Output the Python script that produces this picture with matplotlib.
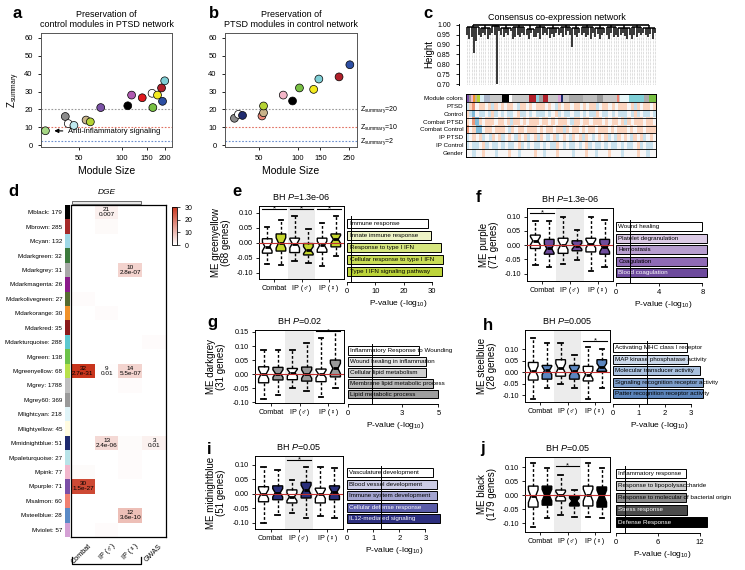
import numpy as np
import matplotlib
matplotlib.use('Agg')
import matplotlib.pyplot as plt
import matplotlib.transforms as mtransforms
from matplotlib.colors import LinearSegmentedColormap, to_rgb
from matplotlib.ticker import NullLocator
from matplotlib.patches import Rectangle

plt.rcParams['font.family'] = ['Liberation Sans', 'DejaVu Sans']
plt.rcParams['mathtext.fontset'] = 'custom'
plt.rcParams['mathtext.rm'] = 'Liberation Sans'
plt.rcParams['mathtext.it'] = 'Liberation Sans:italic'
plt.rcParams['axes.linewidth'] = 0.7
plt.rcParams['xtick.major.width'] = 0.6
plt.rcParams['ytick.major.width'] = 0.6
plt.rcParams['xtick.major.size'] = 2.5
plt.rcParams['ytick.major.size'] = 2.5

# ---------------- data ----------------
# a: control modules in PTSD network
a_size = [29, 40, 42, 46, 56, 60, 71, 110, 117, 139, 163, 165, 178, 190, 193, 200]
a_z = [8, 16, 12, 11, 14, 13, 21, 22, 28, 26.5, 29, 21, 28, 32, 24.5, 36]
a_col = ['#a6d785', '#8c8c8c', 'white', '#bfe8ef', '#c9b38a', '#b5d334', '#7b52a6', 'black',
         '#b05ab0', '#e0191e', 'white', '#78c043', '#f3ea1f', '#b0202a', '#2d4fa3', '#7fcfd6']

# b: PTSD modules in control network
b_size = [32, 34.4, 37, 52.5, 54, 54, 77, 91, 103, 133, 146, 210, 255]
b_z = [15, 17.2, 16.6, 16.3, 18.1, 21.9, 28, 24.7, 32, 31.2, 37, 38.2, 45]
b_col = ['#8c8c8c', 'white', '#1f2a6e', '#f08a7a', '#c9b38a', '#b5d334', '#f4b6c8', 'black',
         '#78c043', '#f3ea1f', '#7fcfd6', '#b0202a', '#2d4fa3']

zsum_lines = [20, 10, 2]
zsum_colors = ['#999999', '#e07060', '#6a8fd0']

# c: consensus network dendrogram (join height, leaf heights)
dendro_clusters = [
    (0.990, [0.95, 0.93, 0.94, 0.86, 0.92, 0.95]),
    (0.985, [0.94, 0.96, 0.95, 0.93, 0.95]),
    (0.995, [0.96, 0.95, 0.70, 0.97]),
    (0.985, [0.95, 0.94, 0.96, 0.95, 0.97]),
    (0.990, [0.93, 0.94, 0.95, 0.94, 0.96, 0.95]),
    (0.980, [0.95, 0.93, 0.96, 0.94]),
    (0.990, [0.94, 0.96, 0.93, 0.95, 0.96]),
    (0.985, [0.95, 0.935, 0.955, 0.94, 0.96, 0.95]),
    (0.990, [0.96, 0.94, 0.95, 0.97, 0.95]),
    (0.985, [0.89, 0.95, 0.94, 0.96]),
    (0.990, [0.95, 0.96, 0.94, 0.95, 0.93, 0.96]),
    (0.985, [0.94, 0.955, 0.93, 0.95, 0.96]),
    (0.990, [0.95, 0.93, 0.96, 0.94, 0.95]),
    (0.985, [0.94, 0.95, 0.96, 0.945, 0.93, 0.95]),
    (0.990, [0.93, 0.95, 0.94, 0.96, 0.95]),
    (0.985, [0.96, 0.95, 0.94, 0.955, 0.93, 0.96]),
]
module_segments = [
    ('#7b4ea6', 8), ('#9a9a9a', 7), ('#f2b6cc', 6), ('#f0922a', 5), ('#c9b38a', 6),
    ('#b5d334', 10), ('#d8eef5', 10), ('#aab4c8', 20), ('#c8c8c8', 33), ('black', 22),
    ('white', 10), ('#c8c8c8', 50), ('#b0202a', 20), ('#8fd3e0', 8), ('#a0a0a0', 12),
    ('#b0202a', 15), ('#c8c8c8', 28), ('#d6a0d6', 10), ('#1f2a6e', 5), ('#c8c8c8', 20),
    ('#a9a9a9', 40), ('#bebebe', 40), ('#999999', 20), ('#c8c8c8', 40), ('#f08070', 5),
    ('#c8c8c8', 5), ('#e8f6f8', 25), ('#7fcfd6', 45), ('#a9a9a9', 15), ('#78c043', 20),
]
trait_names = ['Module colors', 'PTSD', 'Control', 'Combat PTSD', 'Combat Control',
               'IP PTSD', 'IP Control', 'Gender']
trait_rows = [
    "brR.rr.rbr.r.rr.brr.r.rrr.r.br.rr.rr.r.rrb.rr.r.rrr.rbr.rr.r",
    "rbB.bb.brb.b.bb.rbb.b.bbb.b.rb.bb.bb.b.bbr.bb.b.bbb.brb.bb.b",
    "r.RBr.rrr.rr.rbrr.r.rrr.rr.r.rrr.brr.rr.rrr.r.rr.rbr.rrr.rr.",
    "R.rBB.rr.rrr.br.rr.rrr.r.rr.rrbr.rr.r.rr.rrr.r.rrr.r.rr.rrr",
    "b.r.rb.br.rb.r.br.rb.rbr.b.rb.r.br.rbr.b.r.rb.br.r.br.rb.r.",
    "b.bb.rb.bb.b.bb.rb.b.bb.b.bbr.b.bb.b.rb.bb.b.bb.b.bb.rb.bb.",
    "..b..r...b...r..b....r..b...r....b...r..b...r...b....r..b..",
]
trait_code = {'B': -2, 'b': -1, '.': 0, 'r': 1, 'R': 2}

# d: module overlap with DGE / GWAS
modules = ['Mblack: 179', 'Mbrown: 285', 'Mcyan: 132', 'Mdarkgreen: 32', 'Mdarkgrey: 31',
           'Mdarkmagenta: 26', 'Mdarkolivegreen: 27', 'Mdarkorange: 30', 'Mdarkred: 35',
           'Mdarkturquoise: 288', 'Mgreen: 138', 'Mgreenyellow: 68', 'Mgrey: 1788',
           'Mgrey60: 369', 'Mlightcyan: 218', 'Mlightyellow: 45', 'Mmidnightblue: 51',
           'Mpaleturquoise: 27', 'Mpink: 77', 'Mpurple: 71', 'Msalmon: 60',
           'Msteelblue: 28', 'Mviolet: 57']
module_colors = ['black', '#a52a2a', '#9fd8e6', '#3d7a3d', '#a9a9a9', '#8b1a8b', '#556b2f',
                 '#f0922a', '#8b1a1a', '#5bc8d0', '#6cc24a', '#b8e04a', '#bebebe', '#999999',
                 '#e0f4f8', '#fffbe0', '#1e2a6e', '#b8e3e8', '#f2b6cc', '#7b4ea6', '#f08070',
                 '#5a8ac6', '#d4a0d4']
dge_cols = ['Combat', 'IP (♂)', 'IP (♀)', 'GWAS']
dge_logp = [
    [0, 2.15, 0, 0], [0, 0.8, 0, 0], [0, 0, 0, 0], [0, 0, 0, 0], [0, 0, 6.55, 0],
    [0, 0, 0, 0], [0.5, 0, 0, 0], [0, 0.5, 0, 0], [0, 0, 0, 0], [0, 0, 0, 0.5],
    [0, 0, 0, 0], [30.57, 0.3, 6.26, 0], [0, 0, 0.5, 0], [0, 0, 0, 0], [0, 0, 0, 0],
    [0, 0, 0, 0], [0, 5.62, 0.6, 2.0], [0, 0, 0.5, 0], [0.6, 0, 0.5, 0], [26.82, 0, 0, 0],
    [0, 0, 0, 0], [0, 0, 9.44, 0], [0, 0.5, 0, 0],
]
dge_text = [(0, 1, '21\n0.007'), (4, 2, '10\n2.8e-07'), (11, 0, '32\n2.7e-31'),
            (11, 1, '9\n0.01'), (11, 2, '14\n5.5e-07'), (16, 1, '13\n2.4e-06'),
            (16, 3, '3\n0.01'), (19, 0, '30\n1.5e-27'), (21, 2, '12\n3.6e-10')]

# e-j: module eigengene boxes (whislo, q1, med, q3, whishi) and GO terms
e_stats = [(-0.069, -0.034, -0.012, 0.014, 0.054), (-0.072, -0.027, 0.000, 0.030, 0.078),
           (-0.061, -0.032, -0.002, 0.016, 0.089), (-0.067, -0.040, -0.024, -0.002, 0.046),
           (-0.077, -0.031, -0.008, 0.016, 0.066), (-0.045, -0.013, 0.012, 0.030, 0.091)]
e_terms = ['Immune response', 'Innate immune response', 'Response to type I IFN',
           'Cellular response to type I IFN', 'Type I IFN signaling pathway']
e_pval = [28.5, 29.5, 33, 34, 33.5]

f_stats = [(-0.070, -0.012, 0.015, 0.035, 0.086), (-0.076, -0.032, -0.012, 0.020, 0.086),
           (-0.065, -0.029, 0.000, 0.024, 0.100), (-0.053, -0.020, -0.004, 0.015, 0.053),
           (-0.090, -0.024, 0.004, 0.024, 0.100), (-0.076, -0.032, -0.008, 0.020, 0.088)]
f_terms = ['Wound healing', 'Platelet degranulation', 'Hemostasis', 'Coagulation',
           'Blood coagulation']
f_pval = [8.0, 8.4, 8.4, 8.4, 8.4]

g_stats = [(-0.087, -0.031, 0.000, 0.026, 0.086), (-0.075, -0.021, 0.002, 0.024, 0.086),
           (-0.050, -0.020, 0.005, 0.020, 0.086), (-0.060, -0.025, 0.000, 0.025, 0.110),
           (-0.080, -0.027, 0.000, 0.018, 0.130), (-0.050, -0.010, 0.020, 0.050, 0.160)]
g_terms = ['Inflammatory Response to Wounding', 'Wound healing in inflammation',
           'Cellular lipid metabolism', 'Membrane lipid metabolic process',
           'Lipid metabolic process']
g_pval = [3.9, 4.3, 4.3, 4.7, 5.0]

h_stats = [(-0.115, -0.034, 0.004, 0.043, 0.150), (-0.070, -0.030, 0.008, 0.030, 0.128),
           (-0.050, -0.017, 0.017, 0.055, 0.128), (-0.070, -0.030, 0.004, 0.030, 0.077),
           (-0.115, -0.038, -0.010, 0.026, 0.110), (-0.070, 0.004, 0.023, 0.055, 0.100)]
h_terms = ['Activating MHC class I receptor', 'MAP kinase phosphatase activity',
           'Molecular transducer activity', 'Signaling recognition receptor activity',
           'Patter recognition receptor activity']
h_pval = [2.85, 2.9, 3.35, 3.5, 3.5]

i_stats = [(-0.100, -0.027, 0.000, 0.025, 0.093), (-0.072, -0.020, 0.004, 0.028, 0.083),
           (-0.065, -0.031, -0.010, 0.014, 0.048), (-0.083, -0.014, 0.014, 0.040, 0.093),
           (-0.076, -0.031, 0.000, 0.020, 0.093), (-0.083, -0.020, 0.007, 0.028, 0.090)]
i_terms = ['Vasculature development', 'Blood vessel development', 'Immune system development',
           'Cellular defense response', 'IL12-mediated signaling']
i_pval = [3.3, 3.45, 3.45, 3.45, 3.55]

j_stats = [(-0.114, -0.043, -0.004, 0.032, 0.114), (-0.082, -0.036, 0.000, 0.032, 0.096),
           (-0.070, -0.021, 0.000, 0.018, 0.071), (-0.079, -0.039, -0.021, -0.004, 0.018),
           (-0.079, -0.039, 0.000, 0.032, 0.114), (-0.082, -0.043, -0.004, 0.029, 0.096)]
j_terms = ['Inflammatory response', 'Response to lipopolysaccharide',
           'Response to molecular of bacterial origin', 'Stress response', 'Defense Response']
j_pval = [10, 10, 10, 10.2, 13]

groups = ['Combat', 'IP (♂)', 'IP (♀)']

W, H = 745, 570
fig = plt.figure(figsize=(W / 100, H / 100), dpi=100)


def px_axes(l, t, r, b):
    return fig.add_axes([l / W, 1 - b / H, (r - l) / W, (b - t) / H])


def letter(x, y, s):
    fig.text(x / W, 1 - y / H, s, fontsize=12, fontweight='bold', va='center', ha='left')


def preservation(rect, size, z, cols, xlim, xticks, title):
    ax = px_axes(*rect)
    for v, c in zip(zsum_lines, zsum_colors):
        ax.axhline(v, color=c, ls=(0, (1.5, 1.5)), lw=0.8, zorder=1)
    ax.scatter(size, z, s=32, c=cols, edgecolors='black', linewidths=0.5, zorder=3)
    ax.set_xscale('log')
    ax.set_xlim(*xlim)
    ax.set_ylim(-1.1, 62.8)
    ax.set_xticks(xticks)
    ax.set_xticklabels([str(t) for t in xticks])
    ax.xaxis.set_minor_locator(NullLocator())
    ax.set_yticks(range(0, 61, 10))
    ax.tick_params(labelsize=5.5)
    for sp in ax.spines.values():
        sp.set_color('#555555')
    ax.set_xlabel('Module Size', fontsize=7.5, labelpad=3)
    ax.set_title(title, fontsize=6.5, pad=4, linespacing=1.15)
    return ax


# ---- a ----
ax_a = preservation((41, 33, 172, 147), a_size, a_z, a_col, (27, 225), [50, 100, 150, 200],
                    'Preservation of\ncontrol modules in PTSD network')
ax_a.set_ylabel(r'Z$_{\rm summary}$', fontsize=7, labelpad=2)
ax_a.annotate('Anti-inflammatory signaling', xy=(32, 8), xytext=(42, 7.5), fontsize=5.5,
              va='center', ha='left',
              arrowprops=dict(arrowstyle='-|>', color='black', lw=0.8, mutation_scale=6))
letter(13, 13, 'a')

# ---- b ----
ax_b = preservation((225, 33, 357, 147), b_size, b_z, b_col, (27, 290), [50, 100, 150, 250],
                    'Preservation of\nPTSD modules in control network')
trans = mtransforms.blended_transform_factory(ax_b.transAxes, ax_b.transData)
for v in zsum_lines:
    ax_b.text(1.02, v, r'Z$_{\rm summary}$=%d' % v, transform=trans, fontsize=5,
              va='center', ha='left')
letter(209, 13, 'b')

# ---- c ----
total = sum(w for _, w in module_segments)
n_leaves = sum(len(l) for _, l in dendro_clusters)
step = total / n_leaves
dx = px_axes(466, 24, 656, 85)
k = 0
centers = []
for join, leaves in dendro_clusters:
    xs = (np.arange(k, k + len(leaves)) + 0.5) * step
    k += len(leaves)
    dx.vlines(xs, 0.70, leaves, colors='#9a9a9a', linestyles=(0, (1, 1.5)), lw=0.4)
    dx.vlines(xs, leaves, join, colors='black', lw=1.1)
    dx.hlines(join, xs[0], xs[-1], colors='black', lw=1.1)
    centers.append(xs.mean())
    dx.vlines(xs.mean(), join, 1.0, colors='black', lw=1.1)
dx.hlines(1.0, centers[0], centers[-1], colors='black', lw=1.2)
dx.set_xlim(0, total)
dx.set_ylim(0.695, 1.005)
dx.set_yticks(np.arange(0.70, 1.001, 0.05))
dx.set_yticklabels(['%.2f' % v for v in np.arange(0.70, 1.001, 0.05)])
dx.tick_params(labelsize=5)
dx.set_xticks([])
for s in ['top', 'right', 'bottom']:
    dx.spines[s].set_visible(False)
dx.spines['left'].set_position(('outward', 5))
dx.set_ylabel('Height', fontsize=7, labelpad=2)
fig.text(557 / W, 1 - 17 / H, 'Consensus co-expression network', fontsize=6.5, ha='center',
         va='center')

tx = px_axes(466, 94, 656, 157)
left = 0
for c, w in module_segments:
    tx.barh(0.5, w, left=left, height=1, color=c, edgecolor='none')
    left += w
trait_cmap = plt.get_cmap('RdBu_r')
for r, row in enumerate(trait_rows):
    vals = np.array([[trait_code[ch] for ch in row]])
    tx.imshow(vals, extent=(0, total, r + 2, r + 1), cmap=trait_cmap, vmin=-4.5, vmax=4.5,
              aspect='auto', interpolation='nearest')
tx.hlines(range(9), 0, total, colors='black', lw=0.6)
tx.set_xlim(0, total)
tx.set_ylim(8, 0)
tx.set_yticks(np.arange(8) + 0.5)
tx.set_yticklabels(trait_names, fontsize=4.5)
tx.tick_params(axis='y', length=0, pad=2)
tx.set_xticks([])
letter(423, 13, 'c')

# ---- d ----
hx = px_axes(71, 205, 166, 537)
dge_cmap = LinearSegmentedColormap.from_list('dge', ['white', '#c8341c'])
im = hx.imshow(np.array(dge_logp), cmap=dge_cmap, vmin=0, vmax=30, aspect='auto',
               interpolation='nearest')
for r, c, s in dge_text:
    hx.text(c, r, s, ha='center', va='center', fontsize=4.6, linespacing=1.0)
hx.set_xticks([])
hx.set_yticks([])
for sp in hx.spines.values():
    sp.set_linewidth(0.9)
for c, name in enumerate(dge_cols):
    hx.text(c + 0.2, 22.9, name, rotation=45, rotation_mode='anchor', ha='right', va='top',
            fontsize=5.2, clip_on=False)
hx.add_patch(Rectangle((-0.45, -0.78), 2.9, 0.23, facecolor='#e6e6e6', edgecolor='#555555',
                       lw=0.6, clip_on=False))
hx.text(1.0, -1.35, 'DGE', fontsize=6, style='italic', ha='center', va='center')
hx.plot([-0.45, -0.45, 2.45, 2.45], [23.9, 24.4, 24.4, 23.9], color='black', lw=0.9,
        clip_on=False)
hx.set_xlim(-0.5, 3.5)
hx.set_ylim(22.5, -0.5)

sx = px_axes(65, 205, 70, 537)
sx.imshow(np.array([to_rgb(c) for c in module_colors])[:, None, :], aspect='auto',
          interpolation='nearest')
sx.set_xticks([])
sx.set_yticks(range(len(modules)))
sx.set_yticklabels(modules, fontsize=4.5)
sx.tick_params(axis='y', length=0, pad=2)
for sp in sx.spines.values():
    sp.set_visible(False)

cax = px_axes(172, 207, 177, 245)
cb = fig.colorbar(im, cax=cax, ticks=[0, 10, 20, 30])
cb.ax.tick_params(labelsize=5, length=2, width=0.5)
cb.outline.set_linewidth(0.6)
letter(8, 192, 'd')


# ---- e-j ----
def me_panel(box_rect, bar_rect, stats, fill, brackets, ylim, yticks, title, ylabel,
             terms, pvals, bar_colors, xmax, xticks):
    ax = px_axes(*box_rect)
    ax.axvspan(2.5, 4.5, color='#ececec', lw=0, zorder=0)
    boxes = []
    for lo, q1, med, q3, hi in stats:
        notch = 0.3 * (q3 - q1)
        boxes.append(dict(whislo=lo, q1=q1, med=med, q3=q3, whishi=hi,
                          cilo=med - notch, cihi=med + notch, fliers=[]))
    art = ax.bxp(boxes, positions=range(1, 7), widths=0.7, shownotches=True,
                 patch_artist=True, capwidths=0.32,
                 boxprops=dict(lw=1.0, edgecolor='black'),
                 medianprops=dict(color='black', lw=2.0),
                 whiskerprops=dict(ls=(0, (2, 1.5)), lw=1.0),
                 capprops=dict(lw=1.3))
    for patch, c in zip(art['boxes'], ['white', fill] * 3):
        patch.set_facecolor(c)
    ax.axhline(0, color='#c03030', lw=0.8, zorder=5)
    for a, b, y in brackets:
        ax.plot([a - 0.35, b + 0.35], [y, y], color='black', lw=0.8, clip_on=False)
        ax.text((a + b) / 2, y, '*', ha='center', va='center', fontsize=5.5)
    ax.set_xlim(0.4, 6.6)
    ax.set_ylim(*ylim)
    ax.set_yticks(yticks)
    ax.set_yticklabels(['%.2f' % v for v in yticks])
    ax.set_xticks([1.5, 3.5, 5.5])
    ax.set_xticklabels(groups)
    ax.tick_params(labelsize=5.2, pad=2)
    ax.set_title(title, fontsize=6.5, pad=4)
    ax.set_ylabel(ylabel, fontsize=7, linespacing=1.0)
    ax.yaxis.set_label_coords(-0.33, 0.5)

    bx = px_axes(*bar_rect)
    ypos = np.arange(len(terms))
    bx.barh(ypos, pvals, height=0.78, color=bar_colors, edgecolor='black', lw=0.7)
    for y, t, c in zip(ypos, terms, bar_colors):
        r, g, b = to_rgb(c)
        tc = 'white' if 0.299 * r + 0.587 * g + 0.114 * b < 0.45 else 'black'
        bx.text(xmax * 0.025, y, t, va='center', ha='left', fontsize=4.5, color=tc,
                clip_on=False)
    bx.axvline(1.3, color='black', lw=0.7, zorder=4)
    bx.set_xlim(0, xmax)
    bx.set_ylim(4.9, -0.6)
    bx.set_yticks([])
    bx.set_xticks(xticks)
    bx.tick_params(labelsize=5.5, pad=2)
    for s in ['top', 'right', 'left']:
        bx.spines[s].set_visible(False)
    bx.spines['bottom'].set_bounds(0, xticks[-1])
    bx.set_xlabel('P-value (-log$_{10}$)', fontsize=6, labelpad=2)


me_panel((259, 206, 344, 279), (347, 216, 449, 282), e_stats, '#c5d62e',
         [(1, 2, 0.112), (3, 4, 0.112), (5, 6, 0.112)], (-0.12, 0.123),
         [-0.10, -0.05, 0.00, 0.05, 0.10], 'BH $\\it{P}$=1.3e-06',
         'ME greenyellow\n(68 genes)', e_terms, e_pval,
         ['white', '#eef3c6', '#d6e67f', '#c8dc55', '#bcd43a'], 36, [0, 10, 20, 30])
letter(232, 192, 'e')

me_panel((527, 208, 613, 281), (616, 220, 711, 283), f_stats, '#6e4c9c',
         [(1, 2, 0.112)], (-0.126, 0.13),
         [-0.10, -0.05, 0.00, 0.05, 0.10], 'BH $\\it{P}$=1.3e-06',
         'ME purple\n(71 genes)', f_terms, f_pval,
         ['white', '#dccbe6', '#b79dcf', '#8f6bb5', '#6d4a9d'], 8.8, [0, 4, 8])
letter(476, 198, 'f')

me_panel((255, 330, 344, 403), (348, 344, 442, 404), g_stats, '#9a9a9a',
         [(5, 6, 0.152)], (-0.103, 0.157),
         [-0.10, -0.05, 0.00, 0.05, 0.10, 0.15], 'BH $\\it{P}$=0.02',
         'ME darkgrey\n(31 genes)', g_terms, g_pval,
         ['white', '#e6e6e6', '#cfcfcf', '#b8b8b8', '#9e9e9e'], 5.2, [0, 3, 5])
letter(207, 322, 'g')

me_panel((525, 330, 610, 402), (613, 341, 706, 404), h_stats, '#5b86c0',
         [(5, 6, 0.138)], (-0.13, 0.185),
         [-0.10, -0.05, 0.00, 0.05, 0.10], 'BH $\\it{P}$=0.005',
         'ME steelblue\n(28 genes)', h_terms, h_pval,
         ['white', '#cdd9ea', '#a9c0de', '#7f9fcb', '#5b84ba'], 3.6, [0, 1, 2, 3])
letter(483, 325, 'h')

me_panel((255, 456, 343, 529), (347, 466, 441, 529), i_stats, '#2a2f7a',
         [(3, 4, 0.118)], (-0.121, 0.131),
         [-0.10, -0.05, 0.00, 0.05, 0.10], 'BH $\\it{P}$=0.05',
         'ME midnightblue\n(51 genes)', i_terms, i_pval,
         ['white', '#cdcde6', '#a3a4d0', '#5a5ca8', '#2c2e7e'], 3.6, [0, 1, 2, 3])
letter(207, 450, 'i')

me_panel((525, 457, 610, 532), (616, 466, 709, 533), j_stats, 'black',
         [(3, 4, 0.104)], (-0.132, 0.136),
         [-0.10, -0.05, 0.00, 0.05, 0.10], 'BH $\\it{P}$=0.05',
         'ME black\n(179 genes)', j_terms, j_pval,
         ['white', '#cfcfcf', '#8a8a8a', '#4a4a4a', 'black'], 13.3, [0, 6, 12])
letter(480, 448, 'j')

fig.savefig('out.png', dpi=100)
